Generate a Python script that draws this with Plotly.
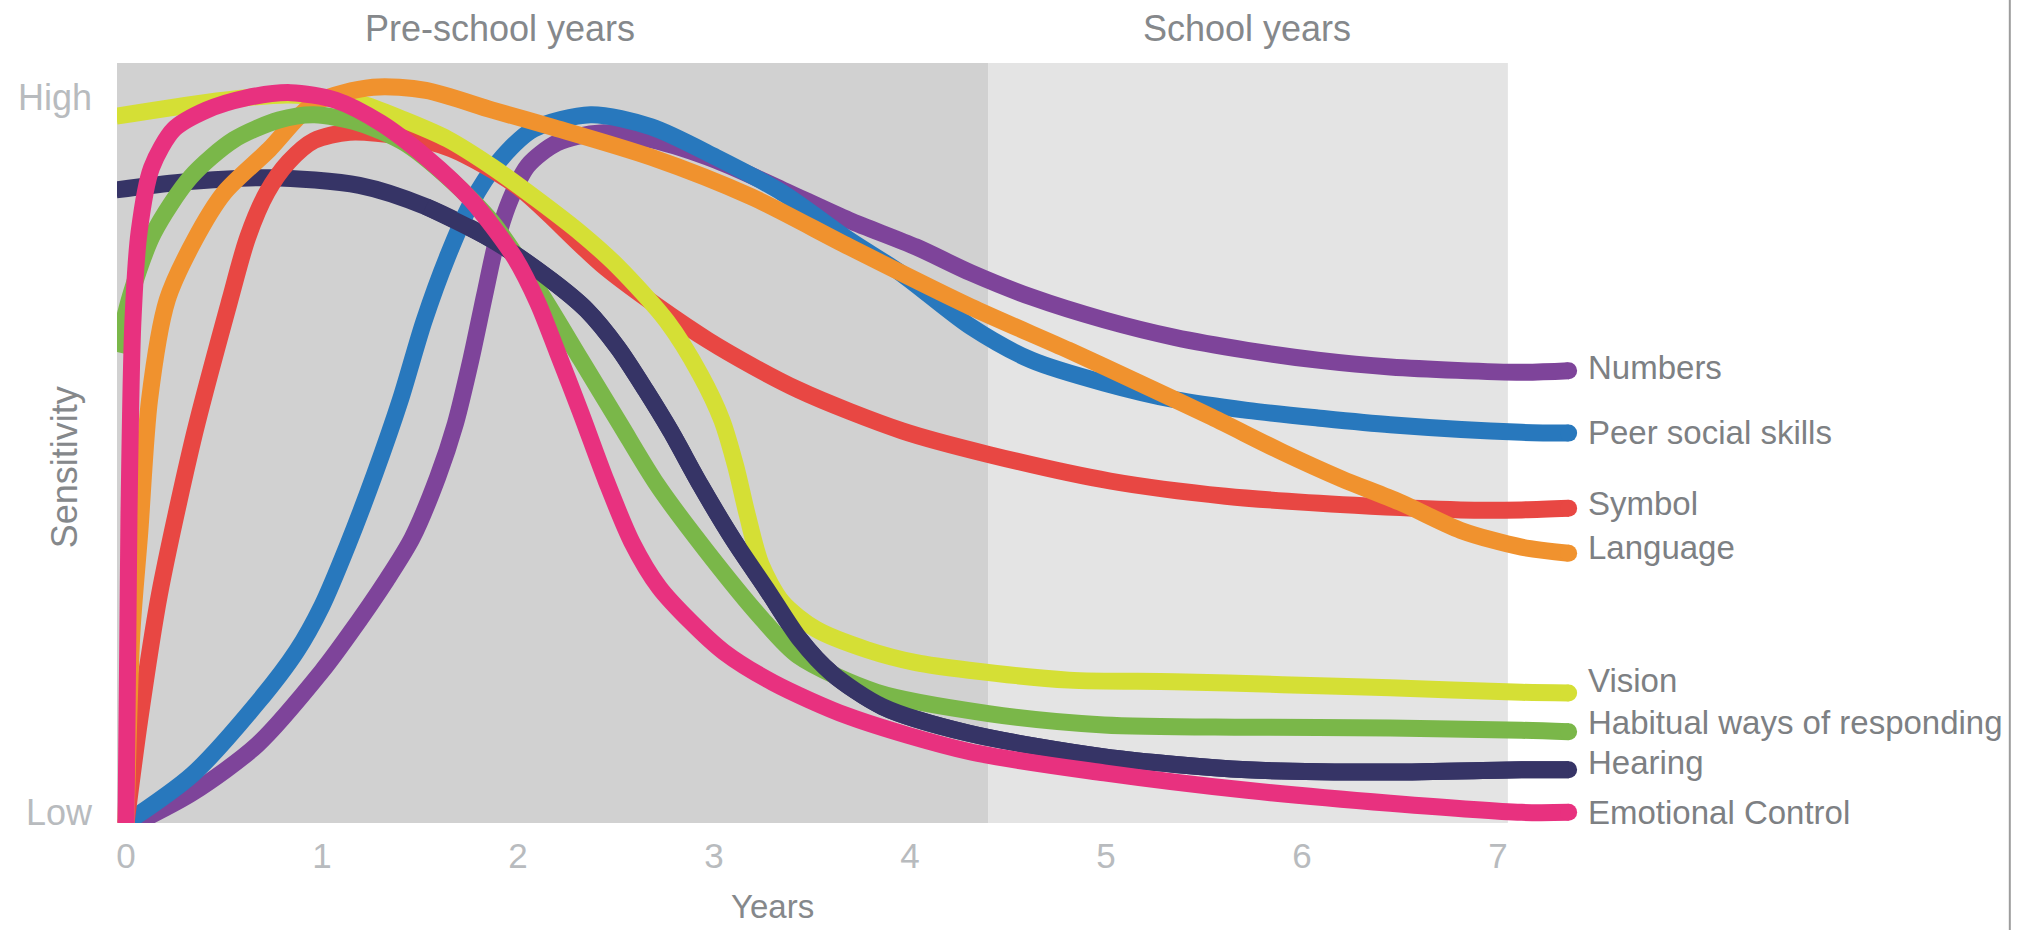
import plotly.graph_objects as go

# ---------------- data (years, sensitivity 0..100) ----------------
numbers_x = [0.05, 0.34, 0.67, 1.0, 1.13, 1.33, 1.46, 1.59, 1.68, 1.76, 1.83, 1.89, 1.96, 2.05, 2.2, 2.42, 2.68, 3.01, 3.35, 3.69, 4.03, 4.31, 4.62, 4.99, 5.35, 5.72, 6.08, 6.45, 7.12, 7.36]
numbers_y = [0.0, 4.0, 10.3, 20.0, 24.5, 32.0, 37.5, 45.5, 52.5, 61.0, 69.5, 76.5, 82.0, 86.5, 89.5, 90.8, 89.9, 87.2, 83.3, 79.3, 75.8, 72.4, 69.2, 66.2, 63.9, 62.2, 60.9, 60.0, 59.3, 59.5]

peer_x = [0.0, 0.34, 0.67, 0.87, 1.0, 1.13, 1.27, 1.40, 1.52, 1.64, 1.76, 1.9, 2.08, 2.37, 2.68, 3.01, 3.35, 3.69, 3.95, 4.31, 4.62, 4.99, 5.35, 5.72, 6.08, 6.45, 7.12, 7.36]
peer_y = [0.0, 6.4, 15.8, 22.6, 28.6, 36.5, 46.0, 55.7, 66.0, 74.5, 81.5, 87.0, 91.3, 93.2, 91.6, 87.6, 82.9, 76.7, 72.4, 65.3, 60.9, 57.9, 55.7, 54.3, 53.3, 52.4, 51.4, 51.3]

symbol_x = [0.0, 0.07, 0.17, 0.35, 0.53, 0.62, 0.72, 0.83, 0.96, 1.14, 1.42, 1.66, 2.0, 2.45, 2.97, 3.43, 3.96, 4.40, 5.02, 5.61, 6.27, 6.81, 7.12, 7.36]
symbol_y = [0.0, 13.6, 30.0, 51.3, 68.8, 77.0, 83.0, 87.0, 89.8, 90.9, 90.3, 88.7, 83.7, 73.0, 63.5, 57.0, 51.6, 48.5, 45.0, 43.0, 41.8, 41.2, 41.2, 41.4]

language_x = [0.0, 0.03, 0.07, 0.12, 0.21, 0.35, 0.5, 0.73, 0.96, 1.26, 1.53, 1.87, 2.17, 2.68, 3.19, 3.69, 4.31, 4.81, 5.17, 5.54, 5.90, 6.20, 6.50, 6.81, 7.12, 7.36]
language_y = [0.0, 25.0, 38.2, 55.7, 68.8, 76.7, 82.9, 88.6, 94.7, 96.8, 96.4, 93.8, 91.6, 87.6, 82.4, 75.8, 67.9, 62.2, 57.9, 53.4, 48.8, 45.3, 42.2, 38.5, 36.3, 35.5]

vision_x = [-0.05, 0.5, 0.83, 1.19, 1.42, 1.64, 1.87, 2.1, 2.32, 2.51, 2.76, 2.93, 3.04, 3.11, 3.17, 3.24, 3.35, 3.52, 3.78, 4.03, 4.30, 4.81, 5.35, 5.9, 6.45, 7.12, 7.36]
vision_y = [93.0, 95.1, 95.8, 94.7, 92.5, 90.0, 86.3, 82.0, 77.6, 73.2, 66.0, 59.0, 53.0, 47.0, 40.5, 34.0, 29.0, 25.5, 22.8, 21.1, 20.1, 18.8, 18.6, 18.2, 17.8, 17.2, 17.1]

habitual_x = [-0.05, 0.03, 0.14, 0.33, 0.55, 0.78, 0.96, 1.19, 1.42, 1.64, 1.87, 2.12, 2.32, 2.52, 2.71, 2.97, 3.24, 3.43, 3.83, 4.40, 4.99, 5.72, 6.45, 7.12, 7.36]
habitual_y = [62.0, 70.0, 77.6, 85.0, 89.9, 92.5, 93.2, 92.1, 89.5, 85.0, 79.0, 69.5, 61.0, 52.5, 44.5, 35.5, 27.0, 22.0, 17.2, 14.4, 12.9, 12.6, 12.5, 12.2, 12.0]

hearing_x = [-0.05, 0.28, 0.73, 1.19, 1.53, 1.87, 2.17, 2.35, 2.51, 2.65, 2.78, 2.93, 3.10, 3.27, 3.44, 3.60, 3.86, 4.30, 4.99, 5.72, 6.45, 7.12, 7.36]
hearing_y = [83.3, 84.3, 84.9, 83.9, 81.1, 76.7, 71.4, 67.5, 62.5, 57.0, 51.5, 44.5, 37.2, 30.7, 24.1, 19.7, 15.3, 11.8, 8.7, 7.0, 6.7, 7.0, 7.0]

emotional_x = [0.0, 0.015, 0.035, 0.067, 0.13, 0.245, 0.41, 0.61, 0.84, 1.07, 1.30, 1.53, 1.76, 1.98, 2.1, 2.2, 2.32, 2.45, 2.58, 2.72, 2.88, 3.05, 3.30, 3.69, 4.30, 4.99, 5.72, 6.45, 7.12, 7.36]
emotional_y = [0.0, 40.4, 65.9, 77.8, 86.2, 91.3, 93.8, 95.4, 96.1, 95.1, 92.1, 87.6, 82.0, 74.5, 68.5, 62.0, 54.0, 45.0, 37.0, 31.0, 26.5, 22.5, 18.5, 14.0, 9.4, 6.6, 4.3, 2.6, 1.4, 1.4]

x_ticks = [0, 1, 2, 3, 4, 5, 6, 7]
y_tick_vals = [1.4, 95.5]
y_tick_text = ["Low", "High"]
periods = ["Pre-school years", "School years"]
period_bounds = [(-0.046, 4.398), (4.398, 7.05)]
period_label_x = [1.91, 5.72]
period_colors = ["#d1d1d1", "#e4e4e4"]

# series: name -> x, y, colour, label y position (layout)
series = {
    "Hearing": (hearing_x, hearing_y, "#363466", 7.9),
    "Numbers": (numbers_x, numbers_y, "#7e449a", 60.0),
    "Peer social skills": (peer_x, peer_y, "#2878bd", 51.4),
    "Symbol": (symbol_x, symbol_y, "#e84743", 42.1),
    "Vision": (vision_x, vision_y, "#d5df35", 18.8),
    "Language": (language_x, language_y, "#f0922e", 36.3),
    "Habitual ways of responding": (habitual_x, habitual_y, "#7ab749", 13.2),
    "Emotional Control": (emotional_x, emotional_y, "#e8317f", 1.4),
}
draw_order = ["Hearing", "Numbers", "Peer social skills", "Symbol", "Vision",
              "Language", "Habitual ways of responding", "HearingTail", "Emotional Control"]

FONT = "Liberation Sans, Arial, Helvetica, sans-serif"
LW = 17

fig = go.Figure()
for key in draw_order:
    if key == "HearingTail":
        xs, ys, col, _ = series["Hearing"]
        xs, ys = xs[4:], ys[4:]
    else:
        xs, ys, col, _ = series[key]
    fig.add_trace(go.Scatter(
        x=xs, y=ys, mode="lines",
        line=dict(color=col, width=LW, shape="spline", smoothing=0.8),
        hoverinfo="skip", showlegend=False))
    if key != "HearingTail":
        fig.add_trace(go.Scatter(
            x=[xs[-1]], y=[ys[-1]], mode="markers",
            marker=dict(color=col, size=LW, line=dict(width=0)),
            hoverinfo="skip", showlegend=False, cliponaxis=False))

shapes = []
for (x0, x1), c in zip(period_bounds, period_colors):
    shapes.append(dict(type="rect", xref="x", yref="y", x0=x0, x1=x1, y0=0, y1=100,
                       fillcolor=c, line=dict(width=0), layer="below"))
shapes.append(dict(type="line", xref="paper", yref="paper", x0=1.285, x1=1.285,
                   y0=-0.141, y1=1.083, line=dict(color="#9c9c9c", width=2)))

annotations = []
for name in ["Numbers", "Peer social skills", "Symbol", "Language", "Vision",
             "Habitual ways of responding", "Hearing", "Emotional Control"]:
    annotations.append(dict(x=7.45, y=series[name][3], xref="x", yref="y",
                            text=name, showarrow=False, xanchor="left", yanchor="middle",
                            font=dict(family=FONT, size=33, color="#7d8083")))
for cx, label in zip(period_label_x, periods):
    annotations.append(dict(x=cx, y=1.046, xref="x", yref="paper", text=label,
                            showarrow=False, xanchor="center", yanchor="middle",
                            font=dict(family=FONT, size=36, color="#85888b")))
annotations.append(dict(x=-0.036, y=0.468, xref="paper", yref="paper", text="Sensitivity",
                        textangle=-90, showarrow=False, xanchor="center", yanchor="middle",
                        font=dict(family=FONT, size=36, color="#85888b")))
annotations.append(dict(x=3.3, y=-0.11, xref="x", yref="paper", text="Years",
                        showarrow=False, xanchor="center", yanchor="middle",
                        font=dict(family=FONT, size=33, color="#85888b")))

fig.update_layout(
    width=2022, height=930,
    margin=dict(l=117, r=432, t=63, b=107),
    paper_bgcolor="white", plot_bgcolor="white",
    shapes=shapes, annotations=annotations,
    xaxis=dict(range=[-0.046, 7.469], tickvals=x_ticks, ticktext=[str(t) for t in x_ticks],
               showgrid=False, zeroline=False, showline=False, ticks="",
               ticklabelstandoff=9,
               tickfont=dict(family=FONT, size=35, color="#b8bbbe")),
    yaxis=dict(range=[0, 100], tickvals=y_tick_vals, ticktext=y_tick_text,
               showgrid=False, zeroline=False, showline=False, ticks="",
               ticklabelstandoff=24,
               tickfont=dict(family=FONT, size=36, color="#b8bbbe")),
)

fig.write_html("out.html")
